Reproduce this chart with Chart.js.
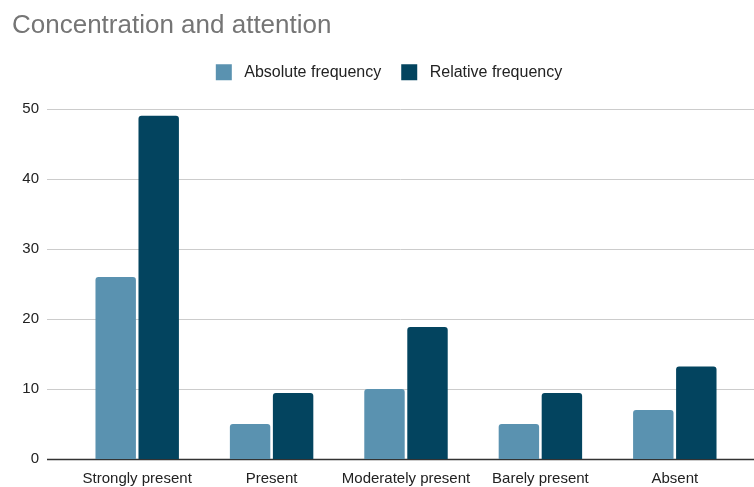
<!DOCTYPE html>
<html lang="en">
<head>
  <meta charset="UTF-8"/>
  <title>Concentration and attention</title>
  <script src="https://cdn.jsdelivr.net/npm/chart.js"></script>
  <style>
    html, body { margin: 0; padding: 0; background: #fff; }
    #wrap { width: 754px; height: 487px; }
  </style>
</head>
<body>
  <div id="wrap"><canvas id="chart" width="754" height="487"></canvas></div>
  <script>
    const categories = ['Strongly present', 'Present', 'Moderately present', 'Barely present', 'Absent'];
    const absoluteFreq = [26, 5, 10, 5, 7];
    const relativeFreq = [49.06, 9.43, 18.87, 9.43, 13.21];
    const yTicks = [0, 10, 20, 30, 40, 50];

    const FONT = '"Liberation Sans", Arial, sans-serif';

    // horizontal grid lines run wider than the plot, like the original
    const wideGrid = {
      id: 'wideGrid',
      beforeDatasetsDraw(chart) {
        const ctx = chart.ctx;
        const y = chart.scales.y;
        ctx.save();
        yTicks.forEach(v => {
          const py = Math.round(y.getPixelForValue(v)) + 0.5;
          ctx.strokeStyle = v === 0 ? '#333333' : '#cccccc';
          ctx.lineWidth = v === 0 ? 1.5 : 1;
          ctx.beginPath();
          ctx.moveTo(47, py);
          ctx.lineTo(chart.width, py);
          ctx.stroke();
        });
        ctx.restore();
      }
    };

    // extra room under the legend, and nudge it right a bit
    const legendTweak = {
      id: 'legendTweak',
      beforeInit(chart) {
        const fit = chart.legend.fit;
        chart.legend.fit = function () {
          fit.bind(chart.legend)();
          this.height += 19;
        };
      },
      afterLayout(chart) {
        chart.legend.left += 12;
        chart.legend.right += 12;
      }
    };

    new Chart(document.getElementById('chart'), {
      type: 'bar',
      data: {
        labels: categories,
        datasets: [
          {
            label: 'Absolute frequency',
            data: absoluteFreq,
            backgroundColor: '#5a92b0',
            borderRadius: { topLeft: 3, topRight: 3 },
            borderSkipped: 'start',
            categoryPercentage: 0.64,
            barPercentage: 0.94
          },
          {
            label: 'Relative frequency',
            data: relativeFreq,
            backgroundColor: '#03445f',
            borderRadius: { topLeft: 3, topRight: 3 },
            borderSkipped: 'start',
            categoryPercentage: 0.64,
            barPercentage: 0.94
          }
        ]
      },
      options: {
        responsive: false,
        animation: false,
        layout: { padding: { left: 12, right: 12, top: 0, bottom: 1 } },
        plugins: {
          title: {
            display: true,
            text: 'Concentration and attention',
            align: 'start',
            color: '#757575',
            font: { family: FONT, size: 26, weight: 'normal' },
            padding: { top: 10, bottom: 3 }
          },
          legend: {
            position: 'top',
            labels: {
              boxWidth: 16,
              boxHeight: 16,
              padding: 20,
              color: '#222222',
              font: { family: FONT, size: 16 },
              generateLabels(chart) {
                return Chart.defaults.plugins.legend.labels.generateLabels(chart)
                  .map(l => Object.assign(l, { text: ' ' + l.text }));
              }
            }
          },
          tooltip: { enabled: false }
        },
        scales: {
          x: {
            grid: { display: false, drawTicks: false },
            border: { display: false },
            afterFit(scale) { scale.height = 27; },
            ticks: {
              color: '#222222', padding: 11, maxRotation: 0, minRotation: 0, autoSkip: false,
              font: { family: FONT, size: 15 }
            }
          },
          y: {
            min: 0,
            max: 50,
            grid: { display: false, drawTicks: false },
            border: { display: false },
            afterBuildTicks(scale) { scale.ticks = yTicks.map(v => ({ value: v })); },
            afterFit(scale) {
              scale.width = 58;
              scale.paddingTop = 9;
              scale.paddingBottom = 9;
            },
            ticks: { color: '#222222', padding: 31, font: { family: FONT, size: 15 } }
          }
        }
      },
      plugins: [wideGrid, legendTweak]
    });
  </script>
</body>
</html>
